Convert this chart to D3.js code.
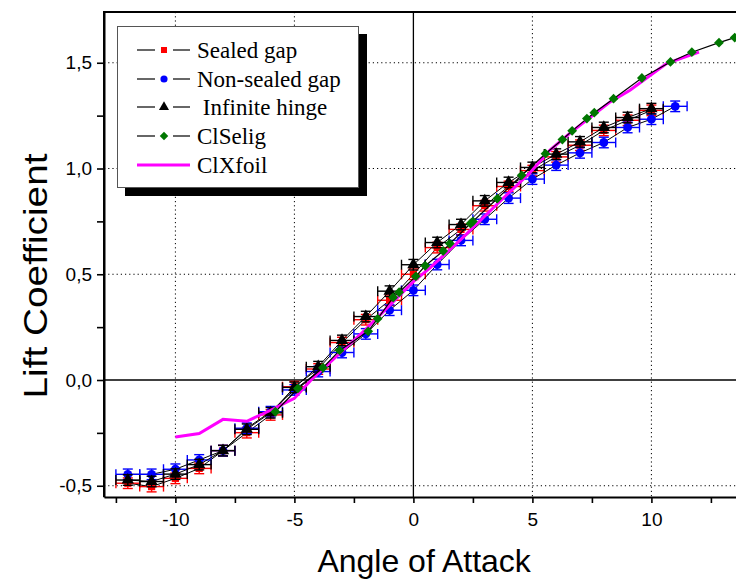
<!DOCTYPE html>
<html>
<head>
<meta charset="utf-8">
<script src="https://cdn.jsdelivr.net/npm/d3@7"></script>
<style>
  html, body { margin: 0; padding: 0; background: #fff; }
  svg { display: block; }
</style>
</head>
<body>
<svg id="chart" width="736" height="579"></svg>
<script>
// ---------------- DATA ----------------
const alphaSealed = [-12,-11,-10,-9,-8,-7,-6,-5,-4,-3,-2,-1,0,1,2,3,4,5,6,7,8,9,10];
const sealedGap = [-0.488,-0.504,-0.465,-0.418,-0.334,-0.249,-0.165,-0.032,0.052,0.177,0.285,0.377,0.50,0.626,0.712,0.824,0.915,0.99,1.055,1.11,1.18,1.228,1.275];

const alphaNonSealed = [-12,-11,-10,-9,-8,-7,-6,-5,-4,-3,-2,-1,0,1,2,3,4,5,6,7,8,9,10,11];
const nonSealedGap = [-0.446,-0.446,-0.422,-0.378,-0.334,-0.228,-0.15,-0.047,0.04,0.13,0.218,0.33,0.424,0.546,0.66,0.76,0.86,0.95,1.016,1.074,1.123,1.194,1.233,1.294];

const alphaInfinite = [-12,-11,-10,-9,-8,-7,-6,-5,-4,-3,-2,-1,0,1,2,3,4,5,6,7,8,9,10];
const infiniteHinge = [-0.473,-0.48,-0.445,-0.40,-0.334,-0.233,-0.155,-0.035,0.063,0.187,0.30,0.42,0.545,0.65,0.735,0.847,0.934,1.005,1.068,1.126,1.194,1.241,1.283];

const alphaSelig = [-5.8,-4.85,-3.8,-3.1,-1.9,-1.5,-0.85,-0.6,0.1,0.5,1.25,1.53,2.4,2.5,3.53,4.55,5.55,6.26,6.67,7.29,7.6,8.41,9.6,10.8,11.7,12.84,13.5,14.2];
const clSelig = [-0.15,-0.04,0.058,0.14,0.23,0.29,0.39,0.415,0.49,0.54,0.61,0.645,0.74,0.75,0.858,0.968,1.07,1.137,1.178,1.236,1.264,1.33,1.428,1.504,1.55,1.595,1.619,1.64];

const alphaXfoil = [-10,-9,-8,-7,-6,-5,-4.3,-2,0,0.7,2,3.5,4.9,5.74,6.58,8.27,9.1,10.65,12.0];
const clXfoil = [-0.27,-0.253,-0.186,-0.195,-0.143,-0.087,0.0,0.24,0.465,0.53,0.665,0.83,0.98,1.087,1.167,1.315,1.37,1.497,1.55];

const alphaErr = 0.5;   // horizontal error (deg)
const clErr = 0.025;    // vertical error

const xTickValues = [-12.5,-10,-7.5,-5,-2.5,0,2.5,5,7.5,10,12.5];
const xTickLabels = {"-10":"-10","-5":"-5","0":"0","5":"5","10":"10"};
const yTickValues = [-0.5,-0.25,0,0.25,0.5,0.75,1.0,1.25,1.5];
const yTickLabels = {"-0.5":"-0,5","0":"0,0","0.5":"0,5","1":"1,0","1.5":"1,5"};
const xGrid = [-10,-5,5,10];
const yGrid = [-0.5,0.5,1.0,1.5];

const legendLabels = ["Sealed gap","Non-sealed gap"," Infinite hinge","ClSelig","ClXfoil"];

// ---------------- DRAW ----------------
(function draw() {
const svg = d3.select("#chart");
const pL = 104, pR = 746.6, pT = 12, pB = 497;
const x = d3.scaleLinear().domain([-13, 14]).range([pL, pR]);
const y = d3.scaleLinear().domain([-0.5532, 1.7400]).range([pB, pT]);

// grid
const grid = svg.append("g");
grid.selectAll(".gx").data(xGrid).enter().append("line")
  .attr("x1", d => x(d)).attr("x2", d => x(d)).attr("y1", pT).attr("y2", pB)
  .attr("stroke", "#000").attr("stroke-width", 1).attr("stroke-dasharray", "1.2,3");
grid.selectAll(".gy").data(yGrid).enter().append("line")
  .attr("x1", pL).attr("x2", pR).attr("y1", d => y(d)).attr("y2", d => y(d))
  .attr("stroke", "#000").attr("stroke-width", 1).attr("stroke-dasharray", "1.2,3");
grid.append("line").attr("x1", x(0)).attr("x2", x(0)).attr("y1", pT).attr("y2", pB)
  .attr("stroke", "#000").attr("stroke-width", 1.3);
grid.append("line").attr("x1", pL).attr("x2", pR).attr("y1", y(0)).attr("y2", y(0))
  .attr("stroke", "#000").attr("stroke-width", 1.3);

// axes
const xAxis = d3.axisBottom(x).tickValues(xTickValues)
  .tickFormat(d => xTickLabels[String(d)] || "").tickSize(6).tickSizeOuter(0).tickPadding(10);
const gx = svg.append("g").attr("transform", `translate(0,${pB})`).call(xAxis);
const yAxis = d3.axisLeft(y).tickValues(yTickValues)
  .tickFormat(d => yTickLabels[String(d)] || "").tickSize(7).tickSizeOuter(0).tickPadding(5);
const gy = svg.append("g").attr("transform", `translate(${pL},0)`).call(yAxis);
[gx, gy].forEach(g => {
  g.select(".domain").attr("stroke-width", 2).attr("stroke", "#000");
  g.selectAll(".tick line").attr("stroke-width", 1.6).attr("stroke", "#000");
  g.selectAll(".tick text").attr("font-family", "Liberation Sans, Arial, sans-serif")
    .attr("font-size", 19).attr("fill", "#000");
});
svg.append("line").attr("x1", pL - 1).attr("x2", pR).attr("y1", pT).attr("y2", pT)
  .attr("stroke", "#000").attr("stroke-width", 2);
svg.append("line").attr("x1", pL).attr("x2", pL).attr("y1", pT).attr("y2", pB)
  .attr("stroke", "#000").attr("stroke-width", 2);

// axis titles
svg.append("text").attr("x", x(0.45)).attr("y", 572).attr("text-anchor", "middle")
  .attr("font-family", "Liberation Sans, Arial, sans-serif").attr("font-size", 32)
  .text("Angle of Attack");
svg.append("text").attr("transform", "translate(47,276) rotate(-90)").attr("text-anchor", "middle")
  .attr("font-family", "Liberation Sans, Arial, sans-serif").attr("font-size", 33)
  .attr("textLength", 245).attr("lengthAdjust", "spacingAndGlyphs")
  .text("Lift Coefficient");

const line = d3.line().x(d => x(d[0])).y(d => y(d[1]));
const sym = {
  square: d3.symbol().type(d3.symbolSquare).size(52),
  circle: d3.symbol().type(d3.symbolCircle).size(62),
  triangle: d3.symbol().type(d3.symbolTriangle).size(66),
  diamond: d3.symbol().type(d3.symbolSquare).size(48)
};

function expSeries(alphas, vals, color, shape) {
  const pts = alphas.map((a, i) => [a, vals[i]]);
  const g = svg.append("g");
  g.append("path").attr("d", line(pts)).attr("fill", "none").attr("stroke", "#000").attr("stroke-width", 1);
  const eb = g.append("g").attr("stroke", color).attr("stroke-width", 1.4).attr("fill", "none");
  pts.forEach(p => {
    const cx = x(p[0]), cy = y(p[1]);
    const x1 = x(p[0] - alphaErr), x2 = x(p[0] + alphaErr);
    const y1 = y(p[1] + clErr), y2 = y(p[1] - clErr);
    eb.append("line").attr("x1", x1).attr("x2", x2).attr("y1", cy).attr("y2", cy);
    eb.append("line").attr("x1", x1).attr("x2", x1).attr("y1", cy - 5).attr("y2", cy + 5);
    eb.append("line").attr("x1", x2).attr("x2", x2).attr("y1", cy - 5).attr("y2", cy + 5);
    eb.append("line").attr("x1", cx).attr("x2", cx).attr("y1", y1).attr("y2", y2);
    eb.append("line").attr("x1", cx - 5).attr("x2", cx + 5).attr("y1", y1).attr("y2", y1);
    eb.append("line").attr("x1", cx - 5).attr("x2", cx + 5).attr("y1", y2).attr("y2", y2);
  });
  g.selectAll(".m").data(pts).enter().append("path")
    .attr("d", sym[shape]).attr("transform", d => `translate(${x(d[0])},${y(d[1])})`)
    .attr("fill", color);
}

expSeries(alphaSealed, sealedGap, "#ff0000", "square");
expSeries(alphaNonSealed, nonSealedGap, "#0000ff", "circle");
expSeries(alphaInfinite, infiniteHinge, "#000000", "triangle");

svg.append("path").attr("d", line(alphaXfoil.map((a, i) => [a, clXfoil[i]])))
  .attr("fill", "none").attr("stroke", "#ff00ff").attr("stroke-width", 3);

const seligPts = alphaSelig.map((a, i) => [a, clSelig[i]]);
svg.append("path").attr("d", line(seligPts)).attr("fill", "none").attr("stroke", "#000").attr("stroke-width", 1.2);
svg.selectAll(".sel").data(seligPts).enter().append("path")
  .attr("d", sym.diamond).attr("transform", d => `translate(${x(d[0])},${y(d[1])}) rotate(45)`)
  .attr("fill", "#007700");

// legend
const lg = svg.append("g");
lg.append("rect").attr("x", 125).attr("y", 34).attr("width", 242).attr("height", 162).attr("fill", "#000");
lg.append("rect").attr("x", 117.5).attr("y", 26.5).attr("width", 241).attr("height", 161)
  .attr("fill", "#fff").attr("stroke", "#555").attr("stroke-width", 1);
const rowsY = [50, 79, 107, 136, 165];
const legColors = ["#ff0000", "#0000ff", "#000000", "#007700"];
const legShapes = ["square", "circle", "triangle", "diamond"];
const legSym = {
  square: d3.symbol().type(d3.symbolSquare).size(36),
  circle: d3.symbol().type(d3.symbolCircle).size(40),
  triangle: d3.symbol().type(d3.symbolTriangle).size(44),
  diamond: d3.symbol().type(d3.symbolSquare).size(36)
};
legendLabels.forEach((lab, i) => {
  const ly = rowsY[i];
  if (i < 4) {
    lg.append("line").attr("x1", 137).attr("x2", 155).attr("y1", ly).attr("y2", ly).attr("stroke", "#000").attr("stroke-width", 1.2);
    lg.append("line").attr("x1", 173).attr("x2", 190).attr("y1", ly).attr("y2", ly).attr("stroke", "#000").attr("stroke-width", 1.2);
    lg.append("path").attr("d", legSym[legShapes[i]])
      .attr("transform", `translate(164,${ly})` + (i === 3 ? " rotate(45)" : ""))
      .attr("fill", legColors[i]);
  } else {
    lg.append("line").attr("x1", 137).attr("x2", 190).attr("y1", ly).attr("y2", ly).attr("stroke", "#ff00ff").attr("stroke-width", 3);
  }
  lg.append("text").attr("x", 197).attr("y", ly + 7.5)
    .attr("font-family", "Liberation Serif, Times New Roman, serif").attr("font-size", 23)
    .style("white-space", "pre")
    .text(lab);
});
})();
</script>
</body>
</html>
